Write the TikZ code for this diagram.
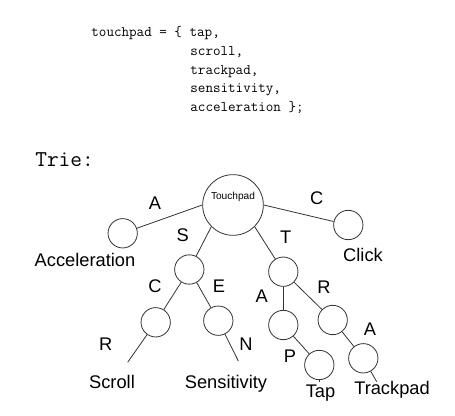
\documentclass[tikz,border=0pt]{standalone}
\usepackage{fontspec}
\setsansfont{Liberation Sans}

\begin{document}
\begin{tikzpicture}[x=0.75pt,y=0.75pt,yscale=-1,xscale=1,
  every path/.style={line width=0.6pt},
  edge/.style={draw=black!80},
  state/.style={circle, draw=black!80, minimum size=22pt, inner sep=0pt},
  rootstate/.style={circle, draw=black!80, minimum size=45.5pt, inner sep=0pt,
    font=\fontsize{7.6}{9}\selectfont\sffamily, text height=5.5pt, text depth=13pt},
  lbl/.style={anchor=base, inner sep=0pt, font=\fontsize{13.7}{16}\selectfont\sffamily},
  code/.style={anchor=base west, inner sep=0pt, font=\fontsize{11}{13}\selectfont\ttfamily}]
%set diagram size
\useasboundingbox (0,0) rectangle (455,416);

% Code Text
\node (code1) [code] at (91,36.7) {touchpad = \{ tap,};
\node (code2) [code] at (190,55.7) {scroll,};
\node (code3) [code] at (190,74.3) {trackpad,};
\node (code4) [code] at (190,92.9) {sensitivity,};
\node (code5) [code] at (190,111.7) {acceleration \};};
% Title
\node (title) [code, font=\fontsize{17}{20}\selectfont\ttfamily] at (35,166.7) {Trie:};

% States
\node (root) [rootstate] at (233,205) {Touchpad};
\node (acc) [state] at (122.7,233.3) {};
\node (click) [state] at (348.3,225) {};
\node (s) [state] at (189.3,269.5) {};
\node (t) [state] at (283.3,271.7) {};
\node (sc) [state] at (155.7,322.3) {};
\node (se) [state] at (218.3,320.7) {};
\node (ta) [state] at (283.3,325) {};
\node (tr) [state] at (332.7,320) {};
\node (tap) [state] at (319.3,365) {};
\node (tra) [state] at (363.3,358.3) {};
% Free ends
\coordinate (scrollEnd) at (127.7,362.3);
\coordinate (sensEnd) at (238.3,361);
\coordinate (tapEnd) at (319.3,382.5);
\coordinate (trackEnd) at (376.7,381.7);

% Edge Labels
\node (labA) [lbl] at (155,209.3) {A};
\node (labC) [lbl] at (316.7,205) {C};
\node (labS) [lbl] at (182.7,241.7) {S};
\node (labT) [lbl] at (285.7,244) {T};
\node (labSC) [lbl] at (155,293) {C};
\node (labSE) [lbl] at (219,293) {E};
\node (labTA) [lbl] at (261.7,302.7) {A};
\node (labTR) [lbl] at (324,294) {R};
\node (labSCR) [lbl] at (105.7,350.7) {R};
\node (labSEN) [lbl] at (246,350.7) {N};
\node (labTAP) [lbl] at (290,362.7) {P};
\node (labTRA) [lbl] at (370,335.7) {A};
% Word Labels
\node (wAcc) [lbl] at (85,266.7) {Acceleration};
\node (wClick) [lbl] at (363,261.7) {Click};
\node (wScroll) [lbl] at (112,389) {Scroll};
\node (wSens) [lbl] at (226,389) {Sensitivity};
\node (wTap) [lbl] at (320.5,397.3) {Tap};
\node (wTrack) [lbl] at (392,395) {Trackpad};

% Connections
\draw [edge] (root.west) -- (acc);
\draw [edge] (root.east) -- (click);
\draw [edge] (root.south west) -- (s);
\draw [edge] (root.south east) -- (t);
\draw [edge] (s) -- (sc);
\draw [edge] (s) -- (se);
\draw [edge] (t) -- (ta);
\draw [edge] (t) -- (tr);
\draw [edge] (ta) -- (tap);
\draw [edge] (tr) -- (tra);
\draw [edge] (sc) -- (scrollEnd);
\draw [edge] (se) -- (sensEnd);
\draw [edge] (tap) -- (tapEnd);
\draw [edge] (tra) -- (trackEnd);

\end{tikzpicture}
\end{document}
